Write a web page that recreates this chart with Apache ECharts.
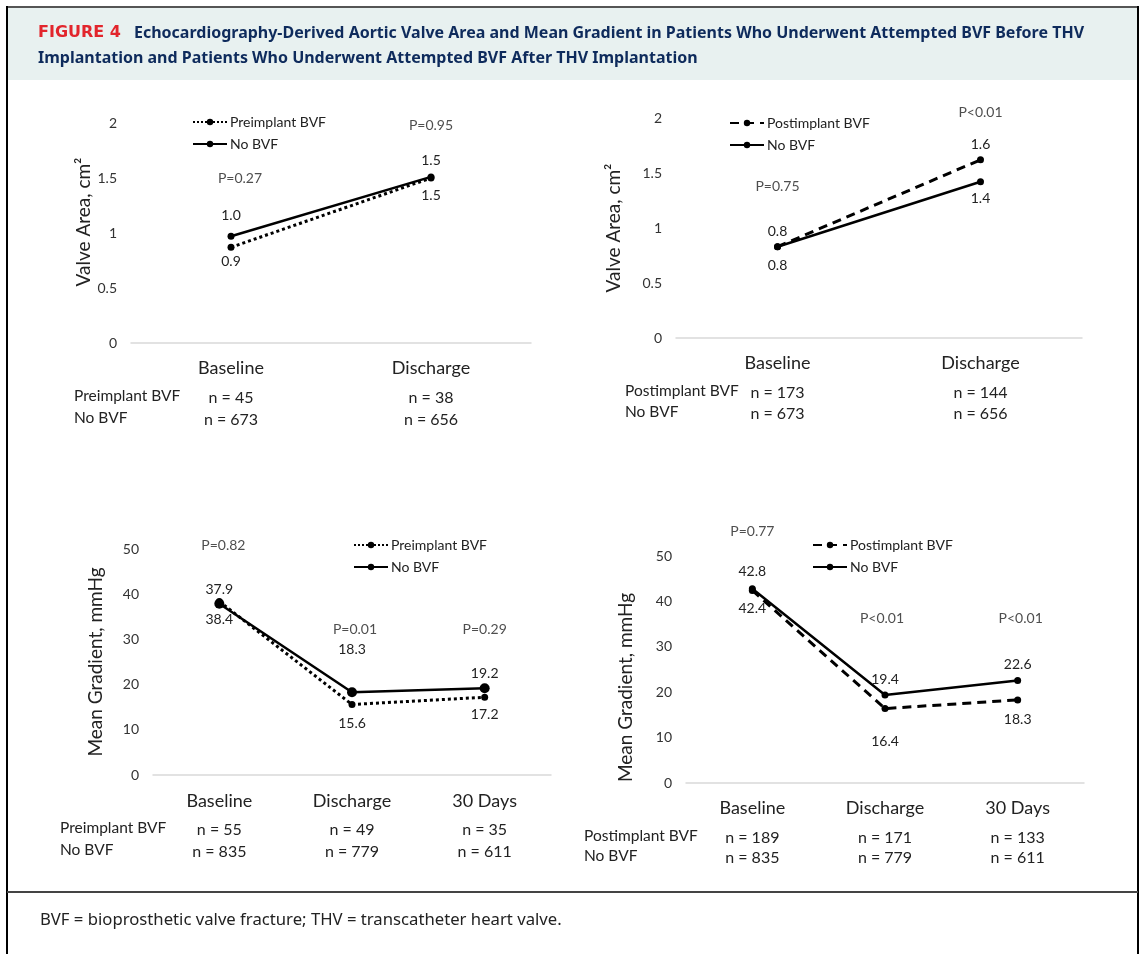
<!DOCTYPE html>
<html>
<head>
<meta charset="utf-8">
<script src="https://cdn.jsdelivr.net/npm/echarts@6/dist/echarts.min.js"></script>
<style>
html,body{margin:0;padding:0;background:#fff;}
#c{width:1142px;height:954px;}
</style>
</head>
<body>
<div id="c"></div>
<script>
// ---------- DATA ----------
const catsArea = ['Baseline', 'Discharge'];
const catsGrad = ['Baseline', 'Discharge', '30 Days'];

const areaPreBVF = [0.87, 1.50];
const areaPreNoBVF = [0.97, 1.51];
const areaPostBVF = [0.83, 1.62];
const areaPostNoBVF = [0.83, 1.42];

const gradPreBVF = [38.4, 15.6, 17.2];
const gradPreNoBVF = [37.9, 18.3, 19.2];
const gradPostBVF = [42.4, 16.4, 18.3];
const gradPostNoBVF = [42.8, 19.4, 22.6];

const nAreaPre = [45, 38];
const nAreaPreNo = [673, 656];
const nAreaPost = [173, 144];
const nAreaPostNo = [673, 656];
const nGradPre = [55, 49, 35];
const nGradPreNo = [835, 779, 611];
const nGradPost = [189, 171, 133];
const nGradPostNo = [835, 779, 611];

const pAreaPre = ['P=0.27', 'P=0.95'];
const pAreaPost = ['P=0.75', 'P<0.01'];
const pGradPre = ['P=0.82', 'P=0.01', 'P=0.29'];
const pGradPost = ['P=0.77', 'P<0.01', 'P<0.01'];

// heights (in axis units) at which the P-value notes sit
const pAreaPreY = [1.50, 1.98];
const pAreaPostY = [1.38, 2.05];
const pGradPreY = [50.7, 32.1, 32.1];
const pGradPostY = [55.5, 36.3, 36.3];

// ---------- STYLE ----------
const FONT = 'Lato';
const TXT = '#222';

const panels = [
  {grid:{left:131, top:123, width:400, height:220}, cats:catsArea, max:2, interval:0.5,
   yName:'Valve Area, cm²', nameGap:38, namePad:[0,0,0,22],
   nBVF:nAreaPre, nNo:nAreaPreNo, m:10, L:[30,30,14],
   p:pAreaPre, pY:pAreaPreY, pOff:[9,0],
   bvf:{name:'Preimplant BVF', data:areaPreBVF, type:'dotted', size:7, dist:[4,7]},
   no:{name:'No BVF', data:areaPreNoBVF, size:7, dist:[10,6]},
   legend:{left:192, top:115},
   rows:{x:74, y:[398,420], label:'Preimplant BVF'}},
  {grid:{left:676, top:118, width:406, height:220}, cats:catsArea, max:2, interval:0.5,
   yName:'Valve Area, cm²', nameGap:53, namePad:[0,0,0,0],
   nBVF:nAreaPost, nNo:nAreaPostNo, m:10, L:[30,30,12],
   p:pAreaPost, pY:pAreaPostY, pOff:[0,0],
   bvf:{name:'Postimplant BVF', data:areaPostBVF, type:[9,6], size:7, dist:[5,5], top:true},
   no:{name:'No BVF ', data:areaPostNoBVF, size:7, dist:[8,6]},
   legend:{left:729, top:116},
   rows:{x:625, y:[393,414], label:'Postimplant BVF'}},
  {grid:{left:153, top:549, width:398, height:226}, cats:catsGrad, max:50, interval:10,
   yName:'Mean Gradient, mmHg', nameGap:48, namePad:[0,0,0,0],
   nBVF:nGradPre, nNo:nGradPreNo, m:10, L:[32,26,18],
   p:pGradPre, pY:pGradPreY, pOff:[4,3,0],
   bvf:{name:'Preimplant BVF ', data:gradPreBVF, type:'dotted', size:7, dist:[8,8,7]},
   no:{name:'No BVF  ', data:gradPreNoBVF, size:10, dist:[2,31,3]},
   legend:{left:353, top:538},
   rows:{x:60, y:[830,852], label:'Preimplant BVF'}},
  {grid:{left:686, top:556, width:398, height:227}, cats:catsGrad, max:50, interval:10,
   yName:'Mean Gradient, mmHg', nameGap:51, namePad:[0,36,0,0],
   nBVF:nGradPost, nNo:nGradPostNo, m:10, L:[30,30,10],
   p:pGradPost, pY:pGradPostY, pOff:[0,-3,3],
   bvf:{name:'Postimplant BVF ', data:gradPostBVF, type:[9,6], size:7, dist:[7,22,9]},
   no:{name:'No BVF   ', data:gradPostNoBVF, size:7, dist:[7,5,5]},
   legend:{left:812, top:538},
   rows:{x:584, y:[838,858], label:'Postimplant BVF'}}
];

const grids = [], xAxes = [], yAxes = [], series = [], legends = [], graphics = [];

// frame / header / footer
graphics.push(
  {type:'rect', shape:{x:8, y:8, width:1129, height:72}, style:{fill:'#e8f1f0'}, silent:true},
  {type:'line', shape:{x1:7, y1:7, x2:1138, y2:7}, style:{stroke:'#555', lineWidth:2}},
  {type:'line', shape:{x1:7, y1:6, x2:7, y2:954}, style:{stroke:'#000', lineWidth:2}},
  {type:'line', shape:{x1:1138, y1:6, x2:1138, y2:954}, style:{stroke:'#000', lineWidth:2}},
  {type:'line', shape:{x1:7, y1:892, x2:1138, y2:892}, style:{stroke:'#444', lineWidth:2}},
  {type:'text', left:38, top:25, style:{text:'FIGURE 4', fill:'#e2252c', font:'bold 16px "DejaVu Sans"'}},
  {type:'text', left:134, top:25, style:{text:'Echocardiography-Derived Aortic Valve Area and Mean Gradient in Patients Who Underwent Attempted BVF Before THV', fill:'#0e2b5c', font:'bold 16px "Noto Sans"'}},
  {type:'text', left:38, top:50, style:{text:'Implantation and Patients Who Underwent Attempted BVF After THV Implantation', fill:'#0e2b5c', font:'bold 16px "Noto Sans"'}},
  {type:'text', left:40, top:912, style:{text:'BVF = bioprosthetic valve fracture; THV = transcatheter heart valve.', fill:'#222', font:'16.7px "Noto Sans"'}}
);

panels.forEach((P, i) => {
  grids.push(Object.assign({containLabel:false}, P.grid));
  const nB = P.nBVF, nN = P.nNo;
  xAxes.push({
    type:'category', gridIndex:i, data:P.cats, boundaryGap:true,
    axisLine:{show:true, lineStyle:{color:'#d9d9d9', width:1.5}},
    axisTick:{show:false},
    axisLabel:{
      margin:P.m, interval:0,
      formatter:(v, idx) => '{c|' + v + '}\n{a|n = ' + nB[idx] + '}\n{b|n = ' + nN[idx] + '}',
      rich:{
        c:{fontFamily:FONT, fontSize:18, color:TXT, lineHeight:P.L[0]},
        a:{fontFamily:FONT, fontSize:16, color:TXT, lineHeight:P.L[1]},
        b:{fontFamily:FONT, fontSize:16, color:TXT, lineHeight:P.L[2]}
      }
    },
    splitLine:{show:false}
  });
  yAxes.push({
    type:'value', gridIndex:i, min:0, max:P.max, interval:P.interval,
    axisLine:{show:false}, axisTick:{show:false}, splitLine:{show:false},
    axisLabel:{fontFamily:FONT, fontSize:14, color:'#333', margin:14},
    name:P.yName, nameLocation:'middle', nameGap:P.nameGap, nameRotate:90,
    nameTextStyle:{fontFamily:FONT, fontSize:19, color:TXT, padding:P.namePad}
  });
  const mk = (S, solid, pos) => ({
    type:'line', name:S.name, xAxisIndex:i, yAxisIndex:i,
    data:S.data.map((v, k) => ({value:v, label:{position:pos, distance:S.dist[k]}})),
    symbol:'circle', symbolSize:S.size, showSymbol:true,
    lineStyle:{color:'#000', width:solid ? 2.5 : 3, type:solid ? 'solid' : S.type},
    itemStyle:{color:'#000'},
    label:{show:true, fontFamily:FONT, fontSize:14, color:'#222',
      formatter:(p) => Number(p.value).toFixed(1)},
    z:solid ? 3 : 2, animation:false
  });
  const bvfTop = !!P.bvf.top;
  series.push(mk(P.bvf, false, bvfTop ? 'top' : 'bottom'));
  series.push(mk(P.no, true, bvfTop ? 'bottom' : 'top'));
  // P-value notes
  series.push({
    type:'scatter', xAxisIndex:i, yAxisIndex:i, symbolSize:0, clip:false, silent:true,
    data:P.p.map((t, k) => ({value:[k, P.pY[k]], name:t,
      label:{offset:[P.pOff[k] || 0, 0]}})),
    label:{show:true, position:'inside', formatter:(p) => p.name,
      fontFamily:FONT, fontSize:14, color:'#222'},
    animation:false
  });
  legends.push({
    show:true, orient:'vertical', left:P.legend.left, top:P.legend.top,
    data:[P.bvf.name, P.no.name], itemWidth:34, itemHeight:8, itemGap:8,
    textStyle:{fontFamily:FONT, fontSize:14, color:TXT, padding:[0,0,0,-2]},
    formatter:(n) => n.trim(), selectedMode:false, padding:0
  });
  graphics.push(
    {type:'text', left:P.rows.x, top:P.rows.y[0] - 10, style:{text:P.rows.label, fill:TXT, font:'15.5px ' + FONT}},
    {type:'text', left:P.rows.x, top:P.rows.y[1] - 10, style:{text:'No BVF', fill:TXT, font:'15.5px ' + FONT}}
  );
});

const chart = echarts.init(document.getElementById('c'), null, {renderer:'canvas'});
chart.setOption({
  backgroundColor:'#fff',
  animation:false,
  grid:grids, xAxis:xAxes, yAxis:yAxes, series:series, legend:legends,
  graphic:graphics
});
</script>
</body>
</html>
